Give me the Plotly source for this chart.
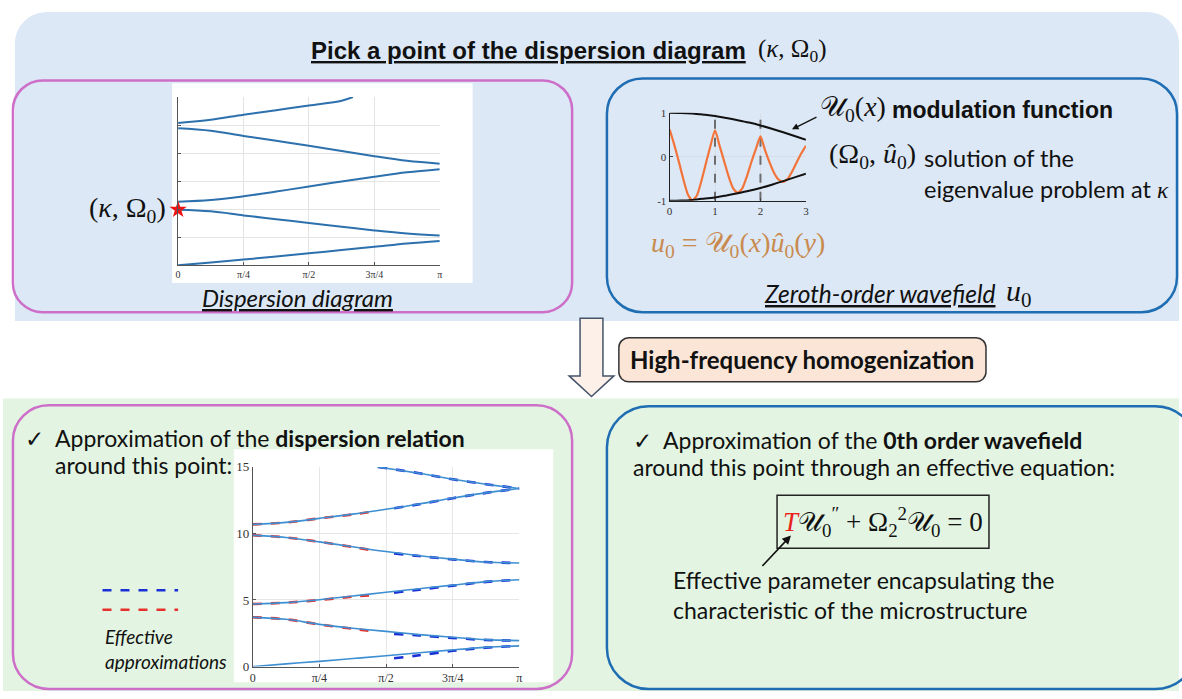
import numpy as np
import plotly.graph_objects as go

W, H = 1182, 699
PI = np.pi

# ---------------- data: top dispersion diagram ----------------
kappa = [0, PI/8, PI/4, 3*PI/8, PI/2, 5*PI/8, 3*PI/4, 7*PI/8, PI]
top_b1 = [0.0, 0.20, 0.41, 0.63, 0.86, 1.09, 1.32, 1.56, 1.74]
top_b2 = [3.97, 3.85, 3.56, 3.29, 3.02, 2.75, 2.49, 2.27, 2.13]
top_b3 = [4.53, 4.65, 4.92, 5.26, 5.62, 5.98, 6.32, 6.63, 6.85]
top_b4 = [9.78, 9.60, 9.22, 8.88, 8.52, 8.15, 7.78, 7.45, 7.25]
top_b5_kappa = [0, PI/8, PI/4, 3*PI/8, PI/2, 5*PI/8, 0.668*PI]
top_b5 = [10.15, 10.38, 10.74, 11.06, 11.40, 11.74, 12.0]
picked_kappa, picked_omega = 0.0, 3.97
top_ticks = ['0', 'π/4', 'π/2', '3π/4', 'π']

# ---------------- data: zeroth-order wavefield ----------------
x_env = [0, 0.25, 0.5, 0.75, 1.0, 1.25, 1.5, 1.75, 2.0, 2.25, 2.5, 2.75, 3.0]
env_upper = [1.0, 0.995, 0.98, 0.955, 0.925, 0.88, 0.83, 0.775, 0.71, 0.635, 0.555, 0.47, 0.385]
env_lower = [-1.0, -0.995, -0.98, -0.955, -0.925, -0.88, -0.83, -0.775, -0.71, -0.635, -0.555, -0.47, -0.385]
x_wave = [round(0.1*i, 1) for i in range(31)]
u_wave = [0.62, 0.28, -0.10, -0.50, -0.85, -0.99, -0.88, -0.55, -0.15, 0.25,
          0.60, 0.25, -0.10, -0.45, -0.72, -0.82, -0.72, -0.45, -0.12, 0.18,
          0.46, 0.15, -0.13, -0.37, -0.52, -0.57, -0.50, -0.33, -0.12, 0.08, 0.25]
cell_marks = [1, 2]

# ---------------- data: bottom dispersion diagram ----------------
bot_b1 = [0.0, 0.20, 0.39, 0.60, 0.81, 1.03, 1.25, 1.44, 1.55]
bot_b2 = [3.70, 3.55, 3.17, 2.88, 2.64, 2.40, 2.20, 2.02, 1.95]
bot_b3 = [4.70, 4.80, 5.02, 5.30, 5.58, 5.85, 6.12, 6.38, 6.52]
bot_b4 = [9.86, 9.70, 9.37, 9.00, 8.64, 8.33, 8.07, 7.85, 7.78]
bot_b5 = [10.68, 10.83, 11.13, 11.45, 11.82, 12.22, 12.67, 13.05, 13.38]
bot_b6_kappa = [0.467*PI, 5*PI/8, 3*PI/4, 7*PI/8, PI]
bot_b6 = [15.0, 14.52, 14.07, 13.70, 13.38]

red_kappa = [0, PI/8, PI/4, 3*PI/8, 0.46*PI]
red_b2 = [3.70, 3.55, 3.16, 2.84, 2.62]
red_b3 = [4.70, 4.80, 5.00, 5.25, 5.38]
red_b4 = [9.86, 9.70, 9.37, 8.98, 8.70]
red_b5 = [10.68, 10.83, 11.13, 11.43, 11.66]

blue_kappa = [0.53*PI, 5*PI/8, 3*PI/4, 7*PI/8, PI]
blue_b1 = [0.62, 0.85, 1.18, 1.42, 1.55]
blue_b2 = [2.45, 2.33, 2.15, 2.00, 1.95]
blue_b3 = [5.55, 5.78, 6.08, 6.36, 6.52]
blue_b4 = [8.50, 8.30, 8.05, 7.85, 7.78]
blue_b5 = [11.90, 12.20, 12.65, 13.05, 13.38]
blue_b6_kappa = [0.47*PI, 5*PI/8, 3*PI/4, 7*PI/8, PI]
blue_b6 = [15.0, 14.52, 14.07, 13.70, 13.38]
bot_yticks = [0, 5, 10, 15]

# ---------------- helpers ----------------
def px(x):
    return x / W

def py(y):
    return 1 - y / H

def pt(x, y):
    return f"{px(x):.5f},{py(y):.5f}"

def rr_path(x0, y0, x1, y1, tl, tr=None, br=None, bl=None):
    tr = tl if tr is None else tr
    br = tl if br is None else br
    bl = tl if bl is None else bl
    k = 0.5523
    return (f"M {pt(x0+tl, y0)} L {pt(x1-tr, y0)} "
            f"C {pt(x1-tr+k*tr, y0)} {pt(x1, y0+tr-k*tr)} {pt(x1, y0+tr)} "
            f"L {pt(x1, y1-br)} C {pt(x1, y1-br+k*br)} {pt(x1-br+k*br, y1)} {pt(x1-br, y1)} "
            f"L {pt(x0+bl, y1)} C {pt(x0+bl-k*bl, y1)} {pt(x0, y1-bl+k*bl)} {pt(x0, y1-bl)} "
            f"L {pt(x0, y0+tl)} C {pt(x0, y0+tl-k*tl)} {pt(x0+tl-k*tl, y0)} {pt(x0+tl, y0)} Z")

BLUE_BG = '#dce8f5'
GREEN_BG = '#e3f5e2'
PINK = '#cd6fc9'
BLUEB = '#1f6db3'
PEACH = '#fbe5d6'
SANS = 'Lato, "Open Sans", sans-serif'
ARIAL = '"Liberation Sans", Arial, sans-serif'
SERIF = '"Liberation Serif", "DejaVu Serif", serif'

fig = go.Figure()

# ---------- top dispersion diagram traces ----------
sol_top = dict(color='#2c70ad', width=2)
for ys in [top_b1, top_b2, top_b3, top_b4]:
    fig.add_trace(go.Scatter(x=kappa, y=ys, mode='lines', line=dict(**sol_top, shape='spline'),
                             xaxis='x', yaxis='y', cliponaxis=False, hoverinfo='skip'))
fig.add_trace(go.Scatter(x=top_b5_kappa, y=top_b5, mode='lines', line=dict(**sol_top, shape='spline'),
                         xaxis='x', yaxis='y', cliponaxis=False, hoverinfo='skip'))
fig.add_trace(go.Scatter(x=[picked_kappa], y=[picked_omega], mode='markers',
                         marker=dict(symbol='star', size=13, color='#ee1111', line=dict(width=0)),
                         xaxis='x', yaxis='y', cliponaxis=False))

# ---------- wavefield traces ----------
for xm in cell_marks:
    fig.add_trace(go.Scatter(x=[xm, xm], y=[-1, 1], mode='lines',
                             line=dict(color='#6d6d6d', width=2, dash='dash'),
                             xaxis='x2', yaxis='y2', hoverinfo='skip'))
fig.add_trace(go.Scatter(x=x_wave, y=u_wave, mode='lines',
                         line=dict(color='#f2743b', width=2.2, shape='spline', smoothing=0.6),
                         xaxis='x2', yaxis='y2', cliponaxis=False, hoverinfo='skip'))
for ys in [env_upper, env_lower]:
    fig.add_trace(go.Scatter(x=x_env, y=ys, mode='lines', line=dict(color='#111111', width=2, shape='spline'),
                             xaxis='x2', yaxis='y2', cliponaxis=False, hoverinfo='skip'))

# ---------- bottom dispersion diagram traces ----------
for kx, ys in [(red_kappa, red_b2), (red_kappa, red_b3), (red_kappa, red_b4), (red_kappa, red_b5)]:
    fig.add_trace(go.Scatter(x=kx, y=ys, mode='lines',
                             line=dict(color='#e8302c', width=2.6, dash='dash', shape='spline'),
                             xaxis='x3', yaxis='y3', cliponaxis=False, hoverinfo='skip'))
for kx, ys in [(blue_kappa, blue_b1), (blue_kappa, blue_b2), (blue_kappa, blue_b3),
               (blue_kappa, blue_b4), (blue_kappa, blue_b5), (blue_b6_kappa, blue_b6)]:
    fig.add_trace(go.Scatter(x=kx, y=ys, mode='lines',
                             line=dict(color='#1a2fd6', width=2.6, dash='dash', shape='spline'),
                             xaxis='x3', yaxis='y3', cliponaxis=False, hoverinfo='skip'))
sol_bot = dict(color='#3d8fd2', width=1.6)
for ys in [bot_b1, bot_b2, bot_b3, bot_b4, bot_b5]:
    fig.add_trace(go.Scatter(x=kappa, y=ys, mode='lines', line=dict(**sol_bot, shape='spline'),
                             xaxis='x3', yaxis='y3', cliponaxis=False, hoverinfo='skip'))
fig.add_trace(go.Scatter(x=bot_b6_kappa, y=bot_b6, mode='lines', line=dict(**sol_bot, shape='spline'),
                         xaxis='x3', yaxis='y3', cliponaxis=False, hoverinfo='skip'))

# ---------- shapes ----------
shapes = []
def path_shape(path, fill=None, line_color=None, width=0):
    return dict(type='path', path=path, xref='paper', yref='paper', layer='below',
                fillcolor=fill if fill else 'rgba(0,0,0,0)',
                line=dict(color=line_color if line_color else 'rgba(0,0,0,0)', width=width))

shapes.append(path_shape(rr_path(12, 5, 1182, 321, 32, 32, 0, 0), fill=BLUE_BG))
shapes.append(path_shape(rr_path(0, 400, 1182, 699, 0), fill=GREEN_BG))
shapes.append(path_shape(rr_path(10, 75, 572, 312, 30), line_color=PINK, width=2.5))
shapes.append(path_shape(rr_path(170, 78, 472, 282, 0), fill='white'))
shapes.append(path_shape(rr_path(607, 73, 1180, 312, 36), line_color=BLUEB, width=2.5))
# down arrow
arrow_pts = [(580, 318), (603, 318), (603, 377), (614, 377), (591.5, 398), (569, 377), (580, 377)]
arrow_path = 'M ' + ' L '.join(pt(a, b) for a, b in arrow_pts) + ' Z'
shapes.append(path_shape(arrow_path, fill='#fdf0e8', line_color='#44546a', width=1.5))
shapes.append(path_shape(rr_path(619, 338, 988, 383, 10), fill=PEACH, line_color='#333333', width=1.5))
shapes.append(path_shape(rr_path(10, 407, 572, 697, 36), line_color=PINK, width=2.5))
shapes.append(path_shape(rr_path(232, 452, 553, 690, 0), fill='white'))
shapes.append(path_shape(rr_path(607, 408, 1200, 697, 42), line_color=BLUEB, width=2.5))
shapes.append(path_shape(rr_path(778, 499, 991, 553, 0), line_color='#222222', width=1.5))
# legend dashes
for yy, col in [(596, '#1a2fd6'), (616, '#e8302c')]:
    shapes.append(dict(type='line', xref='paper', yref='paper', x0=px(100), x1=px(176), y0=py(yy), y1=py(yy),
                       line=dict(color=col, width=2.6, dash='dash'), layer='below'))

# ---------- annotations ----------
anns = []
def ann(text, x, y, size, family=SANS, color='#111111', xanchor='left', yanchor='middle', align='left'):
    anns.append(dict(text=text, x=px(x), y=py(y), xref='paper', yref='paper', showarrow=False,
                     xanchor=xanchor, yanchor=yanchor, align=align,
                     font=dict(size=size, family=family, color=color)))

ann('<b><u>Pick a point of the dispersion diagram</u></b>', 308, 44, 24, family=ARIAL)
ann('(<i>κ</i>, Ω<sub>0</sub>)', 757, 44, 25, family=SERIF)
ann('(<i>κ</i>, Ω<sub>0</sub>)', 166, 207, 28, family=SERIF, xanchor='right')
ann('<i><u>Dispersion diagram</u></i>', 296, 297, 24, xanchor='center')
ann('𝒰<sub>0</sub>(<i>x</i>)', 819, 104, 28, family=SERIF)
ann('<b>modulation function</b>', 892, 105, 23, family=ARIAL)
ann('(Ω<sub>0</sub>, <i>û</i><sub>0</sub>)', 920, 152, 28, family=SERIF, xanchor='right')
ann('solution of the', 924, 154, 23.5)
ann('eigenvalue problem at <i><span style="font-family:Liberation Serif">κ</span></i>', 924, 186, 23.5)
ann('<i>u</i><sub>0</sub> = 𝒰<sub>0</sub>(<i>x</i>)<i>û</i><sub>0</sub>(<i>y</i>)', 649, 243, 28,
    family=SERIF, color='#c98a4f')
ann('<i><u>Zeroth-order wavefield</u></i>', 999, 293, 24.5, xanchor='right')
ann('<i>u</i><sub>0</sub>', 1006, 292, 30, family=SERIF)
ann('<b>High-frequency homogenization</b>', 803, 360, 24, xanchor='center')
ann('✓  Approximation of the <b>dispersion relation</b>', 20, 440, 23)
ann('around this point:', 50, 468, 23)
ann('<i>Effective</i><br><i>approximations</i>', 101, 656, 19)
ann('✓  Approximation of the <b>0th order wavefield</b>', 631, 443, 23)
ann('around this point through an effective equation:', 631, 470, 23)
ann('<span style="color:#e8221c"><i>T</i></span>𝒰<sub>0</sub><sup>″</sup> + Ω<sub>2</sub><sup>2</sup>𝒰<sub>0</sub> = 0',
    884, 526, 27, family=SERIF, xanchor='center')
ann('Effective parameter encapsulating the<br>characteristic of the microstructure', 671, 601, 23)

# arrows
anns.append(dict(x=px(792), y=py(540), xref='paper', yref='paper', ax=-30, ay=32, text='',
                 showarrow=True, arrowhead=2, arrowsize=1.1, arrowwidth=1.6, arrowcolor='#111111'))
anns.append(dict(x=px(793), y=py(125), xref='paper', yref='paper', ax=26, ay=-13, text='',
                 showarrow=True, arrowhead=2, arrowsize=1.0, arrowwidth=1.3, arrowcolor='#111111'))

# ---------- axes ----------
tickserif = dict(family=SERIF, color='#333333')
fig.update_layout(
    width=W, height=H, margin=dict(l=0, r=0, t=0, b=0),
    paper_bgcolor='white', plot_bgcolor='rgba(0,0,0,0)', showlegend=False,
    shapes=shapes, annotations=anns,
    xaxis=dict(domain=[px(176), px(439)], anchor='y', range=[0, PI],
               tickvals=[0, PI/4, PI/2, 3*PI/4, PI], ticktext=top_ticks,
               tickfont=dict(size=10, **tickserif), showgrid=True, gridcolor='#e4e4e4',
               showline=True, linecolor='#555555', linewidth=1, ticks='inside', ticklen=3,
               tickcolor='#555555', zeroline=False, fixedrange=True),
    yaxis=dict(domain=[py(264), py(92)], anchor='x', range=[0, 12], tickvals=[0, 2, 4, 6, 8, 10, 12],
               showticklabels=False, showgrid=True, gridcolor='#e4e4e4',
               showline=True, linecolor='#555555', linewidth=1, ticks='inside', ticklen=3,
               tickcolor='#555555', zeroline=False, fixedrange=True),
    xaxis2=dict(domain=[px(670), px(807)], anchor='y2', range=[0, 3], tickvals=[0, 1, 2, 3],
                tickfont=dict(size=11, **tickserif), showgrid=True, gridcolor='#d6dde6',
                showline=True, linecolor='#222222', linewidth=1.2, ticks='inside', ticklen=3,
                zeroline=False, fixedrange=True),
    yaxis2=dict(domain=[py(198), py(108)], anchor='x2', range=[-1, 1], tickvals=[-1, 0, 1],
                ticktext=['-1', '0', '1'], tickfont=dict(size=11, **tickserif), showgrid=True,
                gridcolor='#d6dde6', showline=True, linecolor='#222222', linewidth=1.2,
                ticks='inside', ticklen=3, zeroline=False, fixedrange=True),
    xaxis3=dict(domain=[px(251), px(519)], anchor='y3', range=[0, PI],
                tickvals=[0, PI/4, PI/2, 3*PI/4, PI], ticktext=top_ticks,
                tickfont=dict(size=12, **tickserif), showgrid=True, gridcolor='#e6e6e6',
                showline=True, linecolor='#555555', linewidth=1, ticks='inside', ticklen=3,
                tickcolor='#555555', zeroline=False, fixedrange=True),
    yaxis3=dict(domain=[py(674), py(470)], anchor='x3', range=[0, 15], tickvals=bot_yticks,
                tickfont=dict(size=13, **tickserif), showgrid=True, gridcolor='#e6e6e6',
                showline=True, linecolor='#555555', linewidth=1, ticks='inside', ticklen=3,
                tickcolor='#555555', zeroline=False, fixedrange=True),
)

fig.write_html('out.html')
